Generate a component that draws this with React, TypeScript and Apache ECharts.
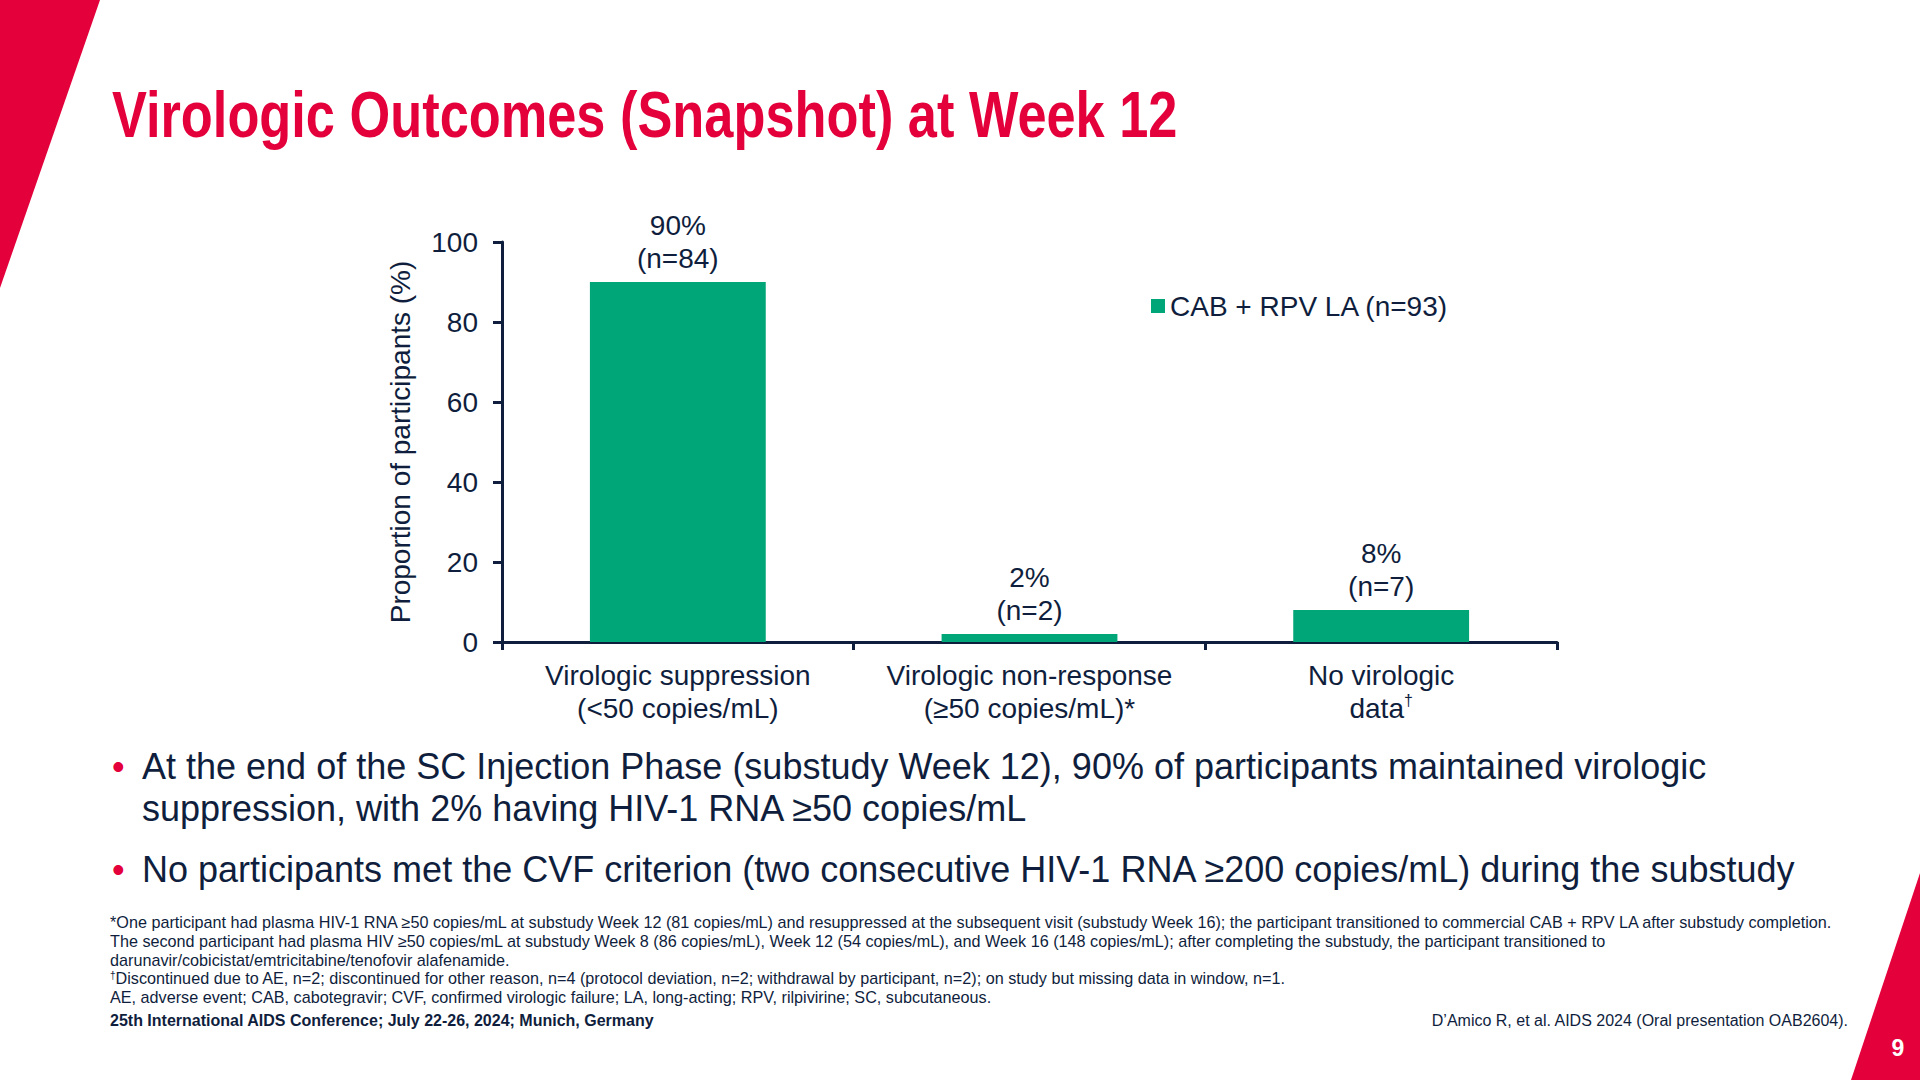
import React, { useEffect, useRef } from "react";
import * as echarts from "echarts";

const categories = [
  "Virologic suppression\n(<50 copies/mL)",
  "Virologic non-response\n(≥50 copies/mL)*",
  "No virologic\ndata{sup|†}",
];
const percentValues = [90, 2, 8];
const nValues = [84, 2, 7];
const seriesName = "CAB + RPV LA (n=93)";
const yTicks = { min: 0, max: 100, interval: 20 };

const titleText = "Virologic Outcomes (Snapshot) at Week 12";
const bullets = [
  [
    "At the end of the SC Injection Phase (substudy Week 12), 90% of participants maintained virologic",
    "suppression, with 2% having HIV-1 RNA ≥50 copies/mL",
  ],
  ["No participants met the CVF criterion (two consecutive HIV-1 RNA ≥200 copies/mL) during the substudy"],
];
const footnotes = [
  "*One participant had plasma HIV-1 RNA ≥50 copies/mL at substudy Week 12 (81 copies/mL) and resuppressed at the subsequent visit (substudy Week 16); the participant transitioned to commercial CAB + RPV LA after substudy completion.",
  "The second participant had plasma HIV ≥50 copies/mL at substudy Week 8 (86 copies/mL), Week 12 (54 copies/mL), and Week 16 (148 copies/mL); after completing the substudy, the participant transitioned to",
  "darunavir/cobicistat/emtricitabine/tenofovir alafenamide.",
  "{sup|†}Discontinued due to AE, n=2; discontinued for other reason, n=4 (protocol deviation, n=2; withdrawal by participant, n=2); on study but missing data in window, n=1.",
  "AE, adverse event; CAB, cabotegravir; CVF, confirmed virologic failure; LA, long-acting; RPV, rilpivirine; SC, subcutaneous.",
];
const conferenceText = "25th International AIDS Conference; July 22-26, 2024; Munich, Germany";
const referenceText = "D’Amico R, et al. AIDS 2024 (Oral presentation OAB2604).";
const pageNumber = "9";

const RED = "#e3003b";
const NAVY = "#0f1e3d";
const GREEN = "#00a677";
const FONT = "'Liberation Sans', Arial, Helvetica, sans-serif";

export default function App() {
  const ref = useRef<HTMLDivElement>(null);

  useEffect(() => {
    document.body.style.margin = "0";
    const chart = echarts.init(ref.current!, undefined, { renderer: "svg" });

    const graphics: any[] = [];
    // red decorative shapes
    graphics.push({
      type: "polygon",
      shape: { points: [[0, 0], [100, 0], [0, 288]] },
      style: { fill: RED },
      silent: true,
    });
    graphics.push({
      type: "polygon",
      shape: { points: [[1920, 873], [1920, 1080], [1851, 1080]] },
      style: { fill: RED },
      silent: true,
    });
    // title (narrow bold)
    graphics.push({
      type: "text",
      x: 112,
      y: 115,
      scaleX: 0.818,
      style: {
        text: titleText,
        x: 0,
        y: 0,
        fill: RED,
        font: `bold 64px ${FONT}`,
        align: "left",
        verticalAlign: "middle",
      },
    });
    // bullets
    const bulletLines = [
      { y: 766, lines: bullets[0] },
      { y: 869, lines: bullets[1] },
    ];
    bulletLines.forEach((b) => {
      graphics.push({
        type: "text",
        x: 112,
        y: b.y,
        style: {
          text: "•",
          fill: RED,
          font: `36px ${FONT}`,
          align: "left",
          verticalAlign: "middle",
        },
      });
      b.lines.forEach((line, i) => {
        graphics.push({
          type: "text",
          x: 142,
          y: b.y + i * 42,
          style: {
            text: line,
            fill: NAVY,
            font: `36px ${FONT}`,
            align: "left",
            verticalAlign: "middle",
          },
        });
      });
    });
    // footnotes
    footnotes.forEach((line, i) => {
      graphics.push({
        type: "text",
        x: 110,
        y: 922 + i * 18.8,
        style: {
          text: line,
          fill: NAVY,
          fontSize: 16.2,
          fontFamily: FONT,
          align: "left",
          verticalAlign: "middle",
          rich: {
            sup: { fontSize: 10, fill: NAVY, verticalAlign: "top", padding: [0, 0, 6, 0] },
          },
        },
      });
    });
    graphics.push({
      type: "text",
      x: 110,
      y: 1020,
      style: {
        text: conferenceText,
        fill: NAVY,
        font: `bold 16px ${FONT}`,
        align: "left",
        verticalAlign: "middle",
      },
    });
    graphics.push({
      type: "text",
      x: 1848,
      y: 1020,
      style: {
        text: referenceText,
        fill: NAVY,
        font: `16px ${FONT}`,
        align: "right",
        verticalAlign: "middle",
      },
    });
    graphics.push({
      type: "text",
      x: 1898,
      y: 1048,
      style: {
        text: pageNumber,
        fill: "#ffffff",
        font: `bold 23px ${FONT}`,
        align: "center",
        verticalAlign: "middle",
      },
    });

    chart.setOption({
      animation: false,
      backgroundColor: "#ffffff",
      textStyle: { fontFamily: FONT },
      graphic: graphics,
      legend: {
        left: 1151,
        top: 290,
        padding: 0,
        icon: "rect",
        itemWidth: 14,
        itemHeight: 14,
        itemGap: 5,
        data: [seriesName],
        textStyle: { color: NAVY, fontSize: 28, lineHeight: 32, fontFamily: FONT },
      },
      grid: { left: 502, right: 363, top: 242, bottom: 438, containLabel: false },
      xAxis: {
        type: "category",
        data: categories,
        axisLine: { lineStyle: { color: NAVY, width: 3 } },
        axisTick: { show: true, length: 8, lineStyle: { color: NAVY, width: 3 }, alignWithLabel: false },
        axisLabel: {
          color: NAVY,
          fontSize: 28,
          lineHeight: 33,
          margin: 17,
          fontFamily: FONT,
          interval: 0,
          rich: {
            sup: { fontSize: 16, color: NAVY, verticalAlign: "top", lineHeight: 33, padding: [0, 0, 6, 0] },
          },
        },
      },
      yAxis: {
        type: "value",
        min: yTicks.min,
        max: yTicks.max,
        interval: yTicks.interval,
        name: "Proportion of participants (%)",
        nameLocation: "middle",
        nameGap: 88,
        nameTextStyle: { color: NAVY, fontSize: 28, fontFamily: FONT },
        axisLine: { show: true, lineStyle: { color: NAVY, width: 3 } },
        axisTick: { show: true, length: 9, lineStyle: { color: NAVY, width: 3 } },
        axisLabel: { color: NAVY, fontSize: 28, margin: 24, fontFamily: FONT },
        splitLine: { show: false },
      },
      series: [
        {
          name: seriesName,
          type: "bar",
          data: percentValues,
          barWidth: "50%",
          itemStyle: { color: GREEN },
          label: {
            show: true,
            position: "top",
            distance: 7,
            color: NAVY,
            fontSize: 28,
            lineHeight: 33,
            fontFamily: FONT,
            formatter: (p: any) => `${percentValues[p.dataIndex]}%\n(n=${nValues[p.dataIndex]})`,
          },
        },
      ],
    });

    return () => chart.dispose();
  }, []);

  return (
    <div
      ref={ref}
      style={{ position: "fixed", left: 0, top: 0, width: 1920, height: 1080, background: "#fff" }}
    />
  );
}
